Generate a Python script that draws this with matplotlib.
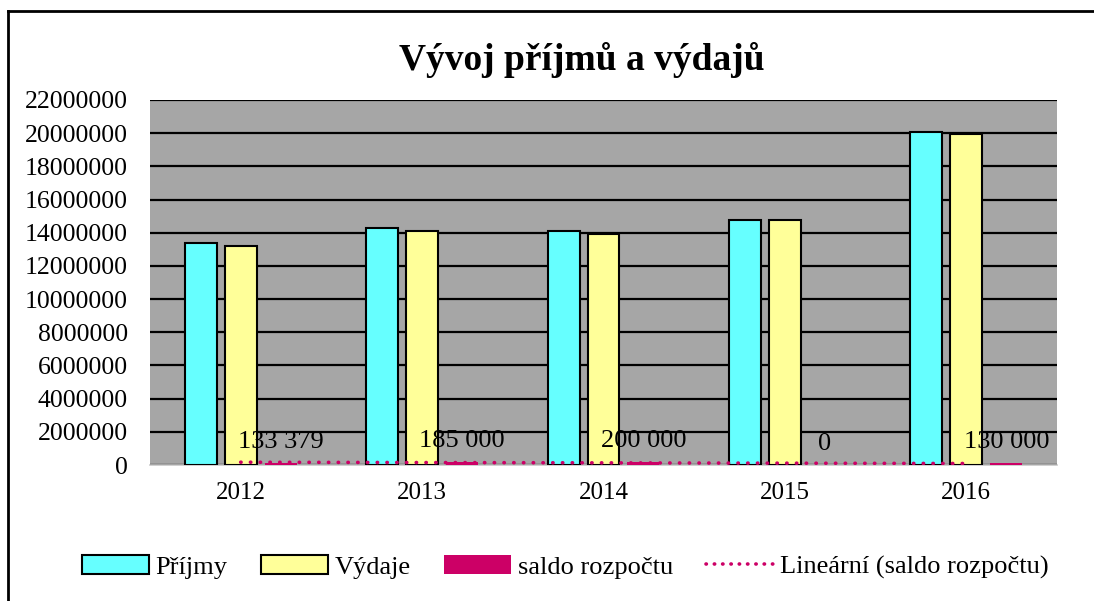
import matplotlib
matplotlib.use("Agg")
import matplotlib.pyplot as plt
import numpy as np
from matplotlib.patches import Patch
from matplotlib.lines import Line2D

plt.rcParams['font.family'] = ['Liberation Serif', 'DejaVu Serif']

years = ['2012', '2013', '2014', '2015', '2016']
prijmy = [13380000, 14280000, 14100000, 14760000, 20100000]
vydaje = [13200000, 14100000, 13920000, 14760000, 19940000]
saldo = [133379, 185000, 200000, 0, 130000]
saldo_labels = ['133 379', '185 000', '200 000', '0', '130 000']
yticks = list(range(0, 22000001, 2000000))

c_prijmy = '#66ffff'
c_vydaje = '#ffff99'
c_saldo = '#cc0066'

W, H = 1094, 601
fig = plt.figure(figsize=(W / 100, H / 100), dpi=100)
ax = fig.add_axes([150 / W, 1 - 465 / H, (1057 - 150) / W, (465 - 100) / H])
ax.set_facecolor('#a6a6a6')

x = np.arange(len(years))
bw = 0.1764
off = 0.2205
ax.bar(x - off, prijmy, bw, color=c_prijmy, edgecolor='black', linewidth=1.5, zorder=3)
ax.bar(x, vydaje, bw, color=c_vydaje, edgecolor='black', linewidth=1.5, zorder=3)
ax.bar(x + off, saldo, bw, color=c_saldo, edgecolor='none', zorder=3)

# linear trend of saldo
k, q = np.polyfit(x, saldo, 1)
ax.plot(x, k * x + q, color=c_saldo, linestyle=(0, (0.1, 2.6)), linewidth=2.6,
        dash_capstyle='round', zorder=4)

for xi, v, lab in zip(x, saldo, saldo_labels):
    ax.annotate(lab, (xi + off, v), xytext=(0, 7), textcoords='offset points',
                ha='center', va='bottom', fontsize=19, zorder=5)

ax.set_xlim(-0.5, 4.5)
ax.set_ylim(0, 22000000)
ax.set_yticks(yticks)
ax.set_yticklabels([str(v) for v in yticks], fontsize=18.5)
ax.set_xticks(x)
ax.set_xticklabels(years, fontsize=18)
ax.tick_params(axis='y', length=0, pad=16)
ax.tick_params(axis='x', length=0, pad=12)
ax.yaxis.grid(True, color='black', linewidth=1.6, zorder=1)
ax.set_axisbelow(True)
for s in ['left', 'right', 'top']:
    ax.spines[s].set_visible(False)
ax.spines['bottom'].set_color('#c8c8c8')
ax.spines['bottom'].set_linewidth(1.2)

fig.text(582 / W, 1 - 60 / H, 'Vývoj příjmů a výdajů', ha='center', va='center',
         fontsize=27, fontweight='bold')

handles = [
    Patch(facecolor=c_prijmy, edgecolor='black', linewidth=1.5),
    Patch(facecolor=c_vydaje, edgecolor='black', linewidth=1.5),
    Patch(facecolor=c_saldo, edgecolor='none'),
    Line2D([], [], color=c_saldo, linestyle=(0, (0.1, 2.2)), linewidth=2.6,
           dash_capstyle='round'),
]
labels = ['Příjmy', 'Výdaje', 'saldo rozpočtu', 'Lineární (saldo rozpočtu)']
fig.legend(handles, labels, loc='center', bbox_to_anchor=(565 / W, 1 - 567 / H),
           ncol=4, frameon=False, fontsize=19, handlelength=2.55, handleheight=0.75,
           handletextpad=0.25, columnspacing=1.25)

# chart frame (left and top edges visible)
fig.add_artist(Line2D([8 / W, 8 / W], [0, 1 - 11 / H], color='black', linewidth=2,
                      transform=fig.transFigure))
fig.add_artist(Line2D([8 / W, 1], [1 - 11 / H, 1 - 11 / H], color='black', linewidth=2,
                      transform=fig.transFigure))

fig.savefig('out.png', dpi=100)
